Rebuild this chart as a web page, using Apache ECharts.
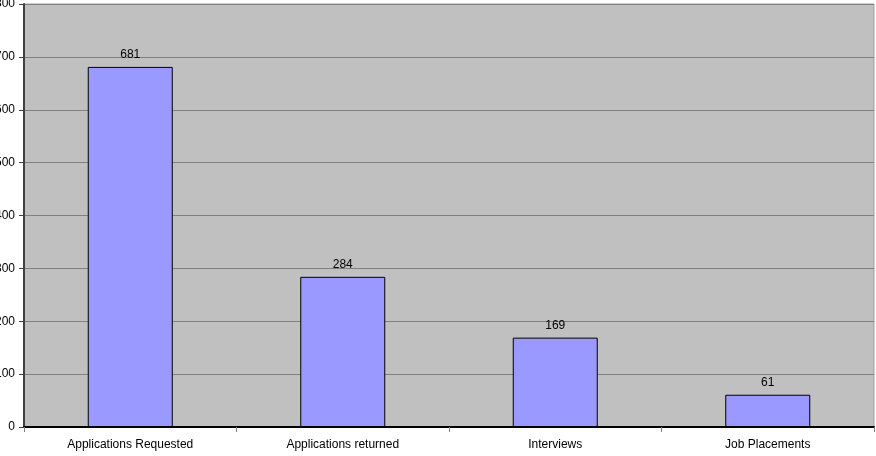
<!DOCTYPE html>
<html>
<head>
<meta charset="utf-8">
<script src="https://cdn.jsdelivr.net/npm/echarts@6/dist/echarts.min.js"></script>
<style>
html,body{margin:0;padding:0;background:#fff;}
#main{width:876px;height:456px;}
</style>
</head>
<body>
<div id="main"></div>
<script>
var categories = ["Applications Requested", "Applications returned", "Interviews", "Job Placements"];
var values = [681, 284, 169, 61];
var yTicks = {min: 0, max: 800, interval: 100};

var chart = echarts.init(document.getElementById('main'), null, {renderer: 'canvas'});
chart.setOption({
  animation: false,
  backgroundColor: '#ffffff',
  grid: {
    left: 24, right: 2, top: 4, bottom: 29,
    containLabel: false,
    outerBoundsMode: 'none',
    show: true,
    backgroundColor: '#c0c0c0',
    borderColor: '#a0a0a0',
    borderWidth: 1
  },
  xAxis: {
    type: 'category',
    data: categories,
    axisLine: {show: true, lineStyle: {color: '#000', width: 2}},
    axisTick: {show: true, alignWithLabel: false, length: 5, lineStyle: {color: '#808080'}},
    axisLabel: {color: '#000', fontFamily: 'Liberation Sans, Arial', fontSize: 12, margin: 12},
    splitLine: {show: false}
  },
  yAxis: {
    type: 'value',
    min: yTicks.min, max: yTicks.max, interval: yTicks.interval,
    axisLine: {show: true, lineStyle: {color: '#404040', width: 2}},
    axisTick: {show: true, length: 5, lineStyle: {color: '#404040'}},
    axisLabel: {color: '#000', fontFamily: 'Liberation Sans, Arial', fontSize: 12, margin: 9},
    splitLine: {show: true, lineStyle: {color: '#808080', width: 1}}
  },
  series: [{
    type: 'bar',
    data: values,
    barWidth: '40%',
    itemStyle: {color: '#9999ff', borderColor: '#000', borderWidth: 1},
    label: {show: true, position: 'top', distance: 6, color: '#000', fontFamily: 'Liberation Sans, Arial', fontSize: 12}
  }]
});
</script>
</body>
</html>
